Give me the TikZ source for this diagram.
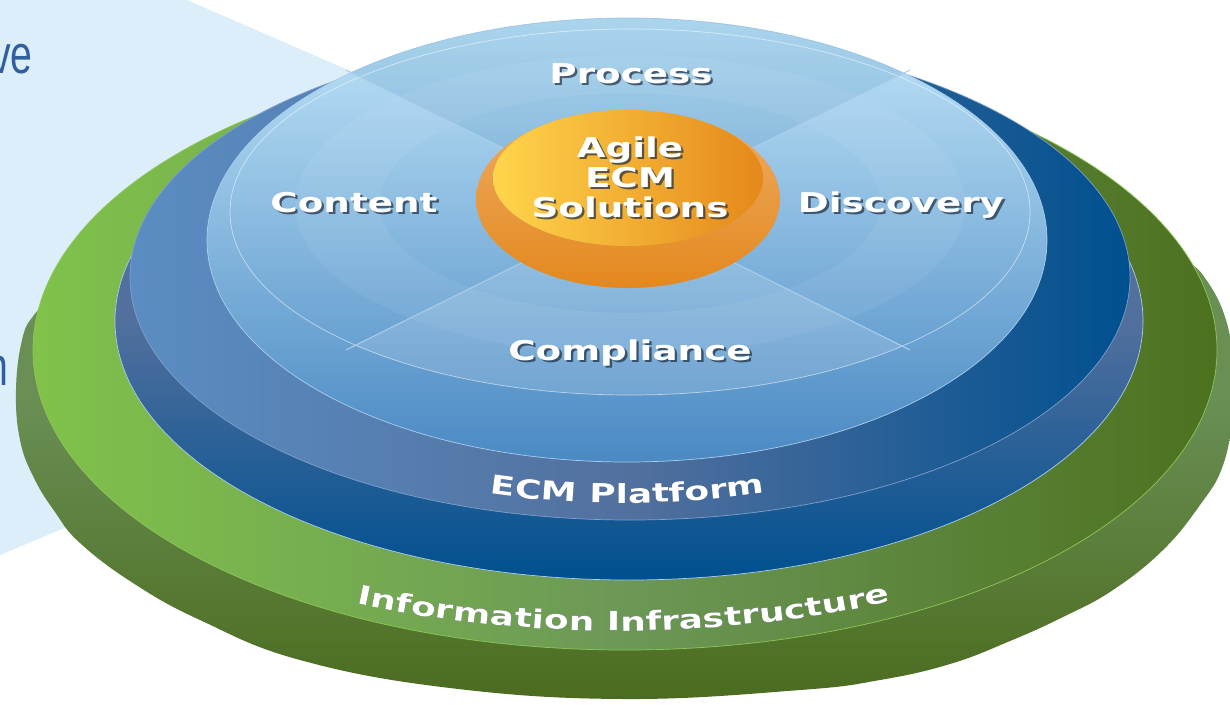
\documentclass[tikz,border=0pt]{standalone}
\usepackage{fontspec}
\usetikzlibrary{decorations.text}
\newfontfamily\ringfont[FakeStretch=1.37]{DejaVu Sans Bold}
\newfontfamily\slidefont[FakeStretch=0.72]{Liberation Sans}
\definecolor{pale-blue}{HTML}{DCEEF9}
\definecolor{slide-blue}{HTML}{2F5F9E}
\definecolor{rim-green-top}{HTML}{6A8F55}
\definecolor{rim-green-bottom}{HTML}{4B6C1F}
\definecolor{leaf-green}{HTML}{80C24A}
\definecolor{sage-green}{HTML}{6C9856}
\definecolor{olive-green}{HTML}{4C711F}
\definecolor{edge-green}{HTML}{8DC857}
\definecolor{slate-blue}{HTML}{52709E}
\definecolor{deep-blue}{HTML}{00508F}
\definecolor{ring-blue}{HTML}{5A8DC3}
\definecolor{ring-line}{HTML}{7EA0CA}
\definecolor{sky-top}{HTML}{BFE4F8}
\definecolor{sky-bottom}{HTML}{4A89C3}
\definecolor{sky-line}{HTML}{AACDEB}
\definecolor{amber-top}{HTML}{EEAC64}
\definecolor{amber-bottom}{HTML}{E3881E}
\definecolor{sun-yellow}{HTML}{FFD54C}
\definecolor{sun-orange}{HTML}{E4881A}
\definecolor{label-shadow}{HTML}{1C2C40}

\newcommand{\ringtext}[4][]{%
    \node[ringlabel, #1, castshadow] at (#3) {#4};
    \node[ringlabel, #1] (#2) at (#3) {#4};
}

\begin{document}
\begin{tikzpicture}[
    x=0.02cm, y=-0.02cm,
    ringlabel/.style={text=white, inner sep=0pt, anchor=base,
        font=\ringfont\fontsize{15.5}{17}\selectfont},
    castshadow/.style={text=label-shadow, opacity=0.7, xshift=1.3pt, yshift=-1.3pt},
    slidetext/.style={text=slide-blue, inner sep=0pt, anchor=base east,
        font=\slidefont\fontsize{31}{36}\selectfont},
    arclabel/.style 2 args={decorate, decoration={text along path,
        text align=center, text color=#1,
        text={|\ringfont\fontsize{15}{17}\selectfont|#2}}},
    rimline/.style={line width=0.4pt},
]
\useasboundingbox (0,0) rectangle (1230,704);
\fill[white] (0,0) rectangle (1230,704);
\fill[pale-blue] (0,0) -- (187,0) -- (640,197) -- (640,300) -- (300,429) -- (0,555) -- cycle;

\node[slidetext] (ve) at (33,73) {ve};
\node[slidetext] (n) at (9,385) {n};

% information infrastructure
\shade[top color=rim-green-top, bottom color=rim-green-bottom, middle color=rim-green-top]
    plot[smooth cycle, tension=0.7] coordinates {
    (60,290) (34,315) (22,340) (16,390) (20,440) (34,478) (55,512) (80,543)
    (133,583) (200,620) (300,660) (450,688) (625,699) (800,690) (880,680)
    (950,664) (1010,641) (1063,617) (1113,590) (1163,550) (1200,505) (1222,468)
    (1232,420) (1233,370) (1226,320) (1205,278) (1180,255) (1100,190) (950,130)
    (625,100) (300,130) (150,200)};
\shadedraw[draw=edge-green, rimline, left color=leaf-green, right color=olive-green,
    middle color=sage-green] (625,350) ellipse [x radius=592, y radius=300];

% ecm platform
\shadedraw[draw=sky-line, rimline, top color=slate-blue, bottom color=deep-blue,
    middle color=slate-blue] (629,321) ellipse [x radius=514, y radius=259];
\shadedraw[draw=ring-line, rimline, left color=ring-blue, right color=deep-blue,
    middle color=slate-blue] (630,277) ellipse [x radius=500, y radius=243];

% solution disc
\shadedraw[draw=sky-line, rimline, top color=sky-top, bottom color=sky-bottom]
    (627,240) ellipse [x radius=420, y radius=222];
\begin{scope}
    \clip (627,240) ellipse [x radius=420, y radius=222];
    \fill[deep-blue, opacity=0.1] (628,210) -- (64,-70) -- (1192,-70) -- cycle;
\end{scope}
\begin{scope}
    \clip (630,212) ellipse [x radius=400, y radius=183];
    \fill[white, opacity=0.14] (628,210) -- (1192,490) -- (64,490) -- cycle;
\end{scope}
\fill[white, opacity=0.06, even odd rule]
    (630,205) ellipse [x radius=335, y radius=150]
    (630,203) ellipse [x radius=250, y radius=110];
\draw[white, opacity=0.55, rimline] (630,212) ellipse [x radius=400, y radius=183];

\coordinate (x-nw) at (346,70);
\coordinate (x-ne) at (910,70);
\coordinate (x-sw) at (346,350);
\coordinate (x-se) at (910,350);
\draw[sky-line, line width=0.6pt] (x-nw) -- (x-se) (x-ne) -- (x-sw);

% core
\shade[top color=amber-top, bottom color=amber-bottom]
    (628,199) ellipse [x radius=152, y radius=89];
\shade[left color=sun-yellow, right color=sun-orange]
    (628,178) ellipse [x radius=135, y radius=68];

\ringtext{process}{631,83}{Process}
\ringtext{content}{354,212}{Content}
\ringtext{discovery}{901,212}{Discovery}
\ringtext{compliance}{630,360}{Compliance}
\ringtext[align=center, anchor=center]{core}{630,177}{Agile\\ECM\\Solutions}

\coordinate (ecm-l) at (485,493);
\coordinate (ecm-a) at (580,507);
\coordinate (ecm-b) at (670,507);
\coordinate (ecm-r) at (770,492);
\coordinate (info-l) at (362,605);
\coordinate (info-a) at (530,640);
\coordinate (info-b) at (710,640);
\coordinate (info-r) at (885,603);

\foreach \tone/\off in {label-shadow/1.3pt, white/0pt} {
    \path[arclabel={\tone}{ECM Platform}, transform canvas={xshift=\off, yshift=-\off}]
        (ecm-l) .. controls (ecm-a) and (ecm-b) .. (ecm-r);
    \path[arclabel={\tone}{Information Infrastructure}, transform canvas={xshift=\off, yshift=-\off}]
        (info-l) .. controls (info-a) and (info-b) .. (info-r);
}
\end{tikzpicture}
\end{document}
